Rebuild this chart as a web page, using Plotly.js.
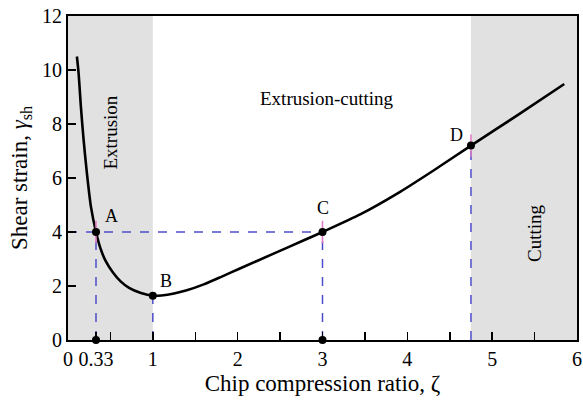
<!DOCTYPE html>
<html><head><meta charset="utf-8">
<script src="https://cdn.plot.ly/plotly-3.0.1.min.js"></script>
<style>html,body{margin:0;padding:0;background:#fff}</style>
</head><body><div id="chart" style="width:583px;height:400px"></div>
<script>
// curve readings (chip compression ratio ζ vs shear strain γsh)
const zeta  = [0.105, 0.125, 0.152, 0.184, 0.223, 0.27, 0.33, 0.38, 0.44, 0.53, 0.62, 0.72, 0.86, 1.0, 1.1, 1.25, 1.4, 1.6, 1.8, 2.02, 2.41, 2.8, 3.0, 3.45, 3.89, 4.3, 4.75, 5.3, 5.85];
const gamma = [10.5, 9.88, 8.64, 7.41, 6.17, 4.94, 4.0, 3.42, 2.95, 2.5, 2.17, 1.93, 1.74, 1.64, 1.65, 1.72, 1.84, 2.06, 2.33, 2.64, 3.18, 3.72, 4.0, 4.66, 5.44, 6.26, 7.2, 8.33, 9.48];
// key points
const keyLabels = ['A', 'B', 'C', 'D'];
const keyX = [0.33, 1, 3, 4.75];
const keyY = [4.0, 1.64, 4.0, 7.2];
// axis-marked points
const axisDotX = [0.33, 3];
const axisDotY = [0, 0];
// regions
const regionNames = ['Extrusion', 'Extrusion-cutting', 'Cutting'];
const regionStart = [0, 1, 4.75];
const regionEnd = [1, 4.75, 6];
const shadedRegions = [0, 2];
// ticks
const xTickVals = [0, 0.33, 0.5, 1, 1.5, 2, 2.5, 3, 3.5, 4, 4.5, 5, 5.5, 6];
const xTickText = ['0', '0.33', '', '1', '', '2', '', '3', '', '4', '', '5', '', '6'];
const yTickVals = [0, 2, 4, 6, 8, 10, 12];

const dashColor = '#4d4dcc';
const FONT = 'Liberation Serif, Times New Roman, serif';

const traces = [];
// horizontal dashed line at γ=4 from axis to C
traces.push({x: [0, keyX[2]], y: [keyY[0], keyY[2]], mode: 'lines', line: {color: dashColor, width: 1.5, dash: 'dash'}, hoverinfo: 'skip'});
// vertical dashed lines
keyX.forEach((x, i) => {
  traces.push({x: [x, x], y: [0, keyY[i]], mode: 'lines', line: {color: dashColor, width: 1.5, dash: 'dash'}, hoverinfo: 'skip'});
});
// curve
traces.push({x: zeta, y: gamma, mode: 'lines', line: {color: '#000', width: 2.6, shape: 'spline', smoothing: 0.7}});
// small ticks at key points A, C, D
traces.push({x: [keyX[0], keyX[2], keyX[3]], y: [keyY[0], keyY[2], keyY[3]], mode: 'markers',
  marker: {symbol: 'line-ns-open', size: 16, line: {color: '#000', width: 1.5}}, hoverinfo: 'skip'});
// key point dots
traces.push({x: keyX, y: keyY, mode: 'markers', marker: {color: '#000', size: 8}});
// axis dots
traces.push({x: axisDotX, y: axisDotY, mode: 'markers', marker: {color: '#000', size: 8}, cliponaxis: false});

const shapes = shadedRegions.map(i => ({type: 'rect', xref: 'x', yref: 'paper', x0: regionStart[i], x1: regionEnd[i], y0: 0, y1: 1,
  fillcolor: '#e1e1e1', line: {width: 0}, layer: 'below'}));

const annotations = [];
const labelOffsets = [[0.18, 0.6], [0.15, 0.55], [0, 0.9], [-0.17, 0.4]];
keyLabels.forEach((t, i) => annotations.push({x: keyX[i] + labelOffsets[i][0], y: keyY[i] + labelOffsets[i][1], text: t, showarrow: false,
  font: {family: FONT, size: 18, color: '#000'}}));
annotations.push({x: 0.5, y: 7.7, text: regionNames[0], textangle: -90, showarrow: false, font: {family: FONT, size: 19, color: '#000'}});
annotations.push({x: 3.05, y: 8.96, text: regionNames[1], showarrow: false, font: {family: FONT, size: 19, color: '#000'}});
annotations.push({x: 5.5, y: 3.95, text: regionNames[2], textangle: -90, showarrow: false, font: {family: FONT, size: 19, color: '#000'}});

const layout = {
  width: 583, height: 400,
  margin: {l: 68, r: 6, t: 16, b: 60},
  paper_bgcolor: '#fff', plot_bgcolor: '#fff',
  showlegend: false,
  font: {family: FONT, color: '#000'},
  xaxis: {range: [0, 6], tickmode: 'array', tickvals: xTickVals, ticktext: xTickText, ticks: 'inside', ticklen: 8, tickwidth: 1.5, tickcolor: '#000',
    showline: true, linecolor: '#000', linewidth: 2, mirror: true, showgrid: false, zeroline: false,
    tickfont: {family: FONT, size: 20, color: '#000'},
    title: {text: 'Chip compression ratio, ζ', font: {family: FONT, size: 23, color: '#000'}, standoff: 6}},
  yaxis: {range: [0, 12], tickmode: 'array', tickvals: yTickVals, ticks: 'inside', ticklen: 8, tickwidth: 1.5, tickcolor: '#000',
    showline: true, linecolor: '#000', linewidth: 2, mirror: true, showgrid: false, zeroline: false,
    tickfont: {family: FONT, size: 20, color: '#000'},
    title: {text: 'Shear strain, <i>γ</i><sub>sh</sub>', font: {family: FONT, size: 23, color: '#000'}, standoff: 8}},
  shapes: shapes,
  annotations: annotations
};
Plotly.newPlot('chart', traces, layout, {displayModeBar: false, staticPlot: true});
</script></body></html>
